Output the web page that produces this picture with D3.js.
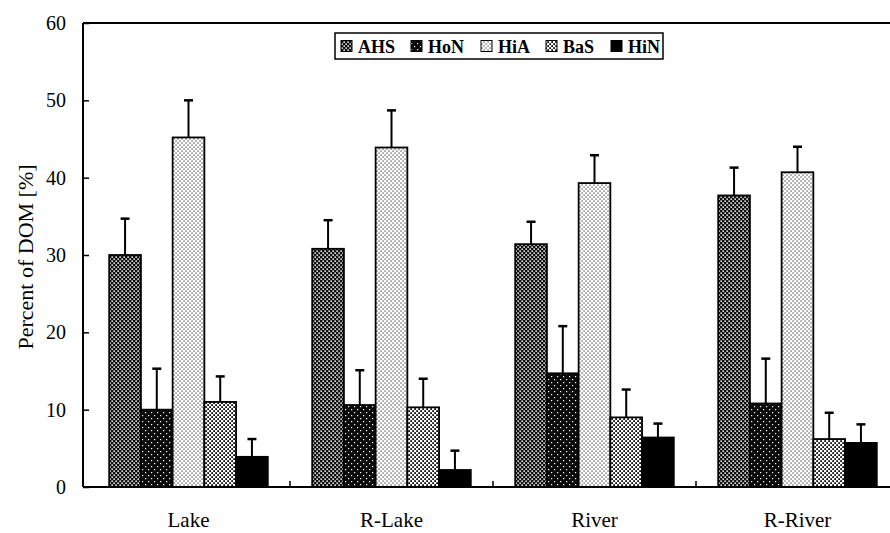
<!DOCTYPE html>
<html>
<head>
<meta charset="utf-8">
<script src="https://cdn.jsdelivr.net/npm/d3@7"></script>
<style>
  html, body { margin: 0; padding: 0; background: #fff; }
  svg { display: block; font-family: "Liberation Serif", "Times New Roman", serif; }
</style>
</head>
<body>
<svg id="chart" width="890" height="533"></svg>
<script>
// Sampling sites and humic/non-humic fractions of dissolved organic matter
const categories = ["Lake", "R-Lake", "River", "R-River"];
const series = ["AHS", "HoN", "HiA", "BaS", "HiN"];

// Mean share of DOM per fraction (%), one value per site
const AHS = [30.0, 30.8, 31.4, 37.7];
const HoN = [10.0, 10.6, 14.7, 10.8];
const HiA = [45.2, 43.9, 39.3, 40.7];
const BaS = [11.0, 10.3, 9.0, 6.2];
const HiN = [3.9, 2.2, 6.4, 5.7];

// Standard deviations (upper error bars)
const AHS_sd = [4.7, 3.7, 2.9, 3.6];
const HoN_sd = [5.3, 4.5, 6.1, 5.8];
const HiA_sd = [4.8, 4.8, 3.6, 3.3];
const BaS_sd = [3.3, 3.7, 3.6, 3.4];
const HiN_sd = [2.3, 2.5, 1.8, 2.4];

const yTicks = [0, 10, 20, 30, 40, 50, 60];

const values = { AHS, HoN, HiA, BaS, HiN };
const errors = { AHS: AHS_sd, HoN: HoN_sd, HiA: HiA_sd, BaS: BaS_sd, HiN: HiN_sd };

const svg = d3.select("#chart");
const plotLeft = 83, plotTop = 23, plotRight = 890, plotBottom = 487;

const y = d3.scaleLinear().domain([0, 60]).range([plotBottom, plotTop]);
const x0 = d3.scaleBand().domain(categories).range([87, 899]).paddingInner(0);
const x1 = d3.scaleBand().domain(series).range([0, x0.bandwidth()])
  .paddingInner(0).paddingOuter(0.7);

// Halftone-style fills
const defs = svg.append("defs");
function dotPattern(id, size, bg, fg, dots) {
  const p = defs.append("pattern").attr("id", id)
    .attr("patternUnits", "userSpaceOnUse").attr("width", size).attr("height", size);
  p.append("rect").attr("width", size).attr("height", size).attr("fill", bg);
  dots.forEach(d => p.append("rect").attr("x", d[0]).attr("y", d[1])
    .attr("width", d[2]).attr("height", d[2]).attr("fill", fg));
}
dotPattern("pAHS", 4, "#111", "#fff", [[0.4, 0.4, 1.5], [2.4, 2.4, 1.5]]);
dotPattern("pHoN", 6, "#0a0a0a", "#fff", [[1, 1, 1.2], [4, 4, 1.2]]);
dotPattern("pHiA", 4, "#fff", "#111", [[0.5, 0.5, 1.1], [2.5, 2.5, 1.1]]);
dotPattern("pBaS", 4, "#fff", "#111", [[0.2, 0.2, 1.8], [2.2, 2.2, 1.8]]);
const fills = { AHS: "url(#pAHS)", HoN: "url(#pHoN)", HiA: "url(#pHiA)", BaS: "url(#pBaS)", HiN: "#000" };

// Frame: left axis, top line
svg.append("line").attr("x1", plotLeft).attr("x2", plotLeft).attr("y1", plotTop).attr("y2", plotBottom)
  .attr("stroke", "#000").attr("stroke-width", 2);
svg.append("line").attr("x1", plotLeft).attr("x2", plotRight).attr("y1", plotTop).attr("y2", plotTop)
  .attr("stroke", "#000").attr("stroke-width", 2);

// Y axis ticks (inward) and labels
const yAxis = svg.append("g").attr("transform", `translate(${plotLeft},0)`)
  .call(d3.axisRight(y).tickValues(yTicks).tickSize(6).tickFormat(""));
yAxis.select(".domain").remove();
yAxis.selectAll(".tick line").attr("stroke-width", 1.5);
svg.append("g").selectAll("text").data(yTicks).join("text")
  .attr("x", 66).attr("y", d => y(d)).attr("dy", "0.35em")
  .attr("text-anchor", "end").attr("font-size", 20).text(d => d);

// Bars
const groups = svg.append("g").selectAll("g").data(categories).join("g")
  .attr("transform", d => `translate(${x0(d)},0)`);

groups.each(function (cat, ci) {
  const g = d3.select(this);
  series.forEach(s => {
    const v = values[s][ci], e = errors[s][ci];
    const bx = x1(s), bw = x1.bandwidth(), cx = bx + bw / 2;
    // error bar (upper only)
    g.append("line").attr("x1", cx).attr("x2", cx).attr("y1", y(v)).attr("y2", y(v + e))
      .attr("stroke", "#000").attr("stroke-width", 2);
    g.append("line").attr("x1", cx - 4.5).attr("x2", cx + 4.5).attr("y1", y(v + e)).attr("y2", y(v + e))
      .attr("stroke", "#000").attr("stroke-width", 2.5);
    g.append("rect").attr("x", bx).attr("y", y(v)).attr("width", bw).attr("height", y(0) - y(v))
      .attr("fill", fills[s]).attr("stroke", "#000").attr("stroke-width", 1.8);
  });
});

// X axis baseline and separator ticks between sites
const xAxis = svg.append("g").attr("transform", `translate(0,${plotBottom})`);
xAxis.append("line").attr("x1", plotLeft).attr("x2", plotRight).attr("y1", 0).attr("y2", 0)
  .attr("stroke", "#000").attr("stroke-width", 2);
xAxis.selectAll("line.sep").data(categories.slice(1)).join("line").attr("class", "sep")
  .attr("x1", d => x0(d)).attr("x2", d => x0(d)).attr("y1", 0).attr("y2", -6)
  .attr("stroke", "#000").attr("stroke-width", 1.5);
xAxis.selectAll("text").data(categories).join("text")
  .attr("x", d => x0(d) + x0.bandwidth() / 2).attr("y", 40)
  .attr("text-anchor", "middle").attr("font-size", 21).text(d => d);

// Y axis title
svg.append("text").attr("transform", "translate(33,257) rotate(-90)")
  .attr("text-anchor", "middle").attr("font-size", 22).text("Percent of DOM [%]");

// Legend
const legend = svg.append("g").attr("transform", "translate(335,33)");
legend.append("rect").attr("width", 328).attr("height", 26)
  .attr("fill", "#fff").attr("stroke", "#000").attr("stroke-width", 1.5);
const legendX = [6, 76, 146, 211, 276];
series.forEach((s, i) => {
  legend.append("rect").attr("x", legendX[i]).attr("y", 7.5).attr("width", 11).attr("height", 11)
    .attr("fill", fills[s]).attr("stroke", "#000").attr("stroke-width", 1);
  legend.append("text").attr("x", legendX[i] + 17).attr("y", 19.5)
    .attr("font-size", 18).attr("font-weight", "bold").text(s);
});
</script>
</body>
</html>
